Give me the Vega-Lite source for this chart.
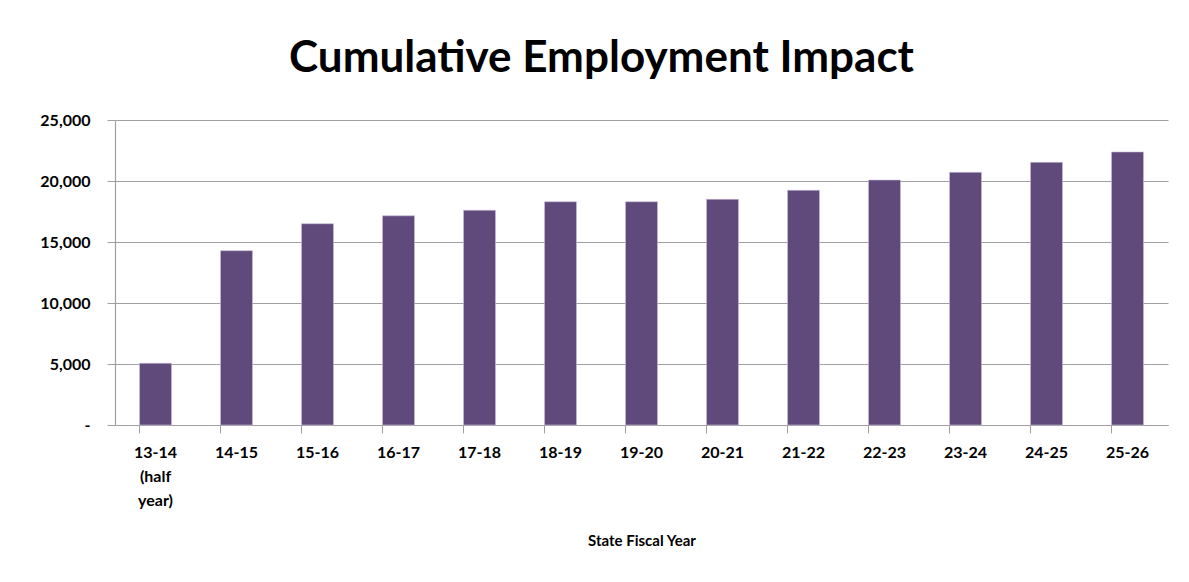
{
  "$schema": "https://vega.github.io/schema/vega-lite/v6.json",
  "width": 1053,
  "height": 305,
  "autosize": {"type": "none"},
  "padding": {"left": 115, "top": 120, "right": 21, "bottom": 157},
  "background": "white",
  "title": {
    "text": "Cumulative Employment Impact",
    "font": "Lato",
    "fontSize": 44,
    "fontWeight": "bold",
    "color": "#000000",
    "anchor": "middle",
    "frame": "group",
    "dx": -40,
    "offset": 31
  },
  "data": {
    "values": [
      {"year": "13-14 (half year)", "jobs": 5060},
      {"year": "14-15", "jobs": 14290},
      {"year": "15-16", "jobs": 16500},
      {"year": "16-17", "jobs": 17150},
      {"year": "17-18", "jobs": 17600},
      {"year": "18-19", "jobs": 18300},
      {"year": "19-20", "jobs": 18300},
      {"year": "20-21", "jobs": 18500},
      {"year": "21-22", "jobs": 19240},
      {"year": "22-23", "jobs": 20080},
      {"year": "23-24", "jobs": 20710},
      {"year": "24-25", "jobs": 21530},
      {"year": "25-26", "jobs": 22380}
    ]
  },
  "mark": {"type": "bar", "color": "#604a7b", "stroke": "#c9bedb", "strokeWidth": 0.6},
  "encoding": {
    "x": {
      "field": "year",
      "type": "nominal",
      "sort": null,
      "scale": {"paddingInner": 0.605, "paddingOuter": 0.3025},
      "axis": {
        "title": "State Fiscal Year",
        "titleFont": "Lato",
        "titleFontSize": 15,
        "titleFontWeight": "bold",
        "titleColor": "#000000",
        "titlePadding": 25,
        "labelExpr": "split(datum.value, ' ')",
        "labelFont": "Lato",
        "labelFontSize": 16,
        "labelFontWeight": "bold",
        "labelColor": "#000000",
        "labelAngle": 0,
        "labelPadding": 11,
        "labelLineHeight": 24,
        "bandPosition": 0,
        "tickSize": 8,
        "tickColor": "#a0a0a0",
        "domainColor": "#a0a0a0",
        "domainWidth": 1.2,
        "grid": false
      }
    },
    "y": {
      "field": "jobs",
      "type": "quantitative",
      "scale": {"domain": [0, 25000], "nice": false},
      "axis": {
        "title": null,
        "values": [0, 5000, 10000, 15000, 20000, 25000],
        "labelExpr": "datum.value == 0 ? '-' : format(datum.value, ',')",
        "labelFont": "Lato",
        "labelFontSize": 16,
        "labelFontWeight": "bold",
        "labelColor": "#000000",
        "labelPadding": 17,
        "tickSize": 8,
        "tickColor": "#a0a0a0",
        "domainColor": "#a0a0a0",
        "domainWidth": 1.2,
        "grid": true,
        "gridColor": "#a0a0a0",
        "gridWidth": 1.2
      }
    }
  },
  "config": {"view": {"stroke": null}}
}
